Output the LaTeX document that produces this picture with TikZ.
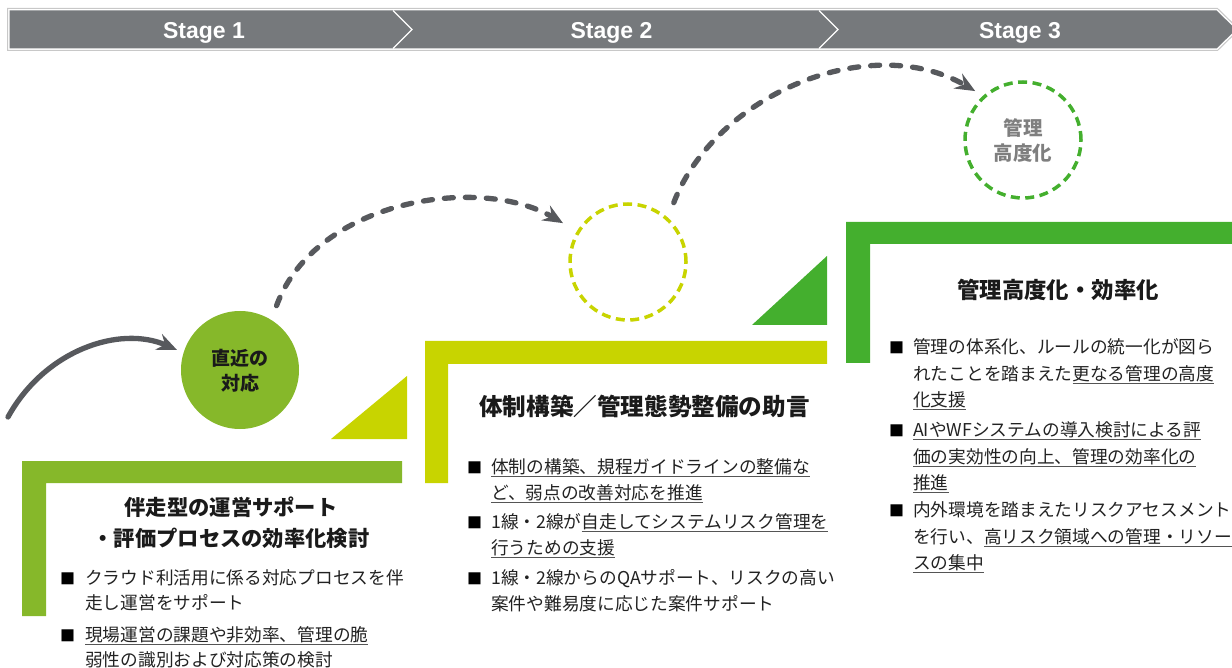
\documentclass[tikz,border=0pt]{standalone}
\usepackage{fontspec}
\setmainfont{Noto Sans CJK JP}
\newfontfamily\stagefont{Liberation Sans}
\usetikzlibrary{arrows.meta}
\definecolor{hdr}{HTML}{76797C}
\definecolor{hdrline}{HTML}{C8C8C8}
\definecolor{olive}{HTML}{86B82A}
\definecolor{lime}{HTML}{C8D400}
\definecolor{grn}{HTML}{44AF2E}
\definecolor{arr}{HTML}{57595D}
\definecolor{txt}{HTML}{222222}
\definecolor{ttlc}{HTML}{1A1A1A}
\definecolor{ulc}{HTML}{555555}
\definecolor{graytxt}{HTML}{7F7F7F}
\newsavebox\ulbox
\newcommand\ul[1]{\sbox\ulbox{#1}\rlap{\color{ulc}\rule[-3.6pt]{\wd\ulbox}{0.9pt}}\usebox\ulbox}
\newcommand\Lvt[2]{\vtop{\baselineskip=#1\lineskiplimit=-30pt\lineskip=0pt\halign{##\hfil\cr#2\crcr}}}
\newcommand\Cvt[2]{\vtop{\baselineskip=#1\lineskiplimit=-30pt\lineskip=0pt\halign{\hfil##\hfil\cr#2\crcr}}}
\tikzset{
  body/.style={anchor=base west, inner sep=0pt, text=txt, font=\fontsize{17.7}{26}\selectfont},
  bul/.style={anchor=base west, inner sep=0pt, text=black, font=\fontsize{15}{15}\selectfont},
  ttl/.style={anchor=base, inner sep=0pt, text=ttlc},
  stage/.style={anchor=base, inner sep=0pt, text=white, font=\stagefont\bfseries\fontsize{23}{23}\selectfont},
  arc/.style={draw=arr, line width=5.3pt, line cap=round, -{Stealth[length=20pt,width=17pt,inset=7pt]}},
  dasharc/.style={arc, dash pattern=on 9pt off 12pt},
  dcirc/.style={circle, line width=3.5pt, dash pattern=on 9pt off 5.5pt, inner sep=0pt, minimum size=116pt},
}
\begin{document}
\begin{tikzpicture}[x=1pt,y=-1pt]
\useasboundingbox (0,0) rectangle (1232,668);
% header bar
\draw[hdrline, line width=1pt, fill=white] (7.5,8.5) -- (1217.5,8.5) -- (1239,29.5) -- (1217.5,50.5) -- (7.5,50.5) -- cycle;
\fill[hdr] (9.5,10.5) -- (1216.5,10.5) -- (1236,29.5) -- (1216.5,48.5) -- (9.5,48.5) -- cycle;
\draw[white, line width=1.2pt] (393,10.5) -- (412,29.5) -- (393,48.5);
\draw[white, line width=1.2pt] (819,10.5) -- (838,29.5) -- (819,48.5);
\node[stage] (s1) at (204,38.2) {Stage 1};
\node[stage] (s2) at (611.5,38.2) {Stage 2};
\node[stage] (s3) at (1020,38.2) {Stage 3};
% L shapes and triangles
\fill[olive] (22,461) -- (402,461) -- (402,483) -- (46,483) -- (46,616) -- (22,616) -- cycle;
\fill[lime] (425,341) -- (827,341) -- (827,364) -- (448,364) -- (448,483) -- (425,483) -- cycle;
\fill[grn] (846,222) -- (1232,222) -- (1232,244) -- (870,244) -- (870,363) -- (846,363) -- cycle;
\fill[lime] (331,439) -- (407,439) -- (407,376) -- cycle;
\fill[grn] (752,325) -- (827,325) -- (827,256) -- cycle;
% circles
\node[circle, fill=olive, inner sep=0pt, minimum size=118pt] (c1) at (240,370) {};
\node[dcirc, draw=lime] (c2) at (628,262) {};
\node[dcirc, draw=grn] (c3) at (1023,140) {};
\node[ttl, font=\bfseries\fontsize{19}{25}\selectfont] (c1t) at (240,365.2) {\Cvt{25pt}{直近の\cr 対応}};
\node[ttl, text=graytxt, font=\bfseries\fontsize{19.5}{25}\selectfont] (c3t) at (1023,135.4) {\Cvt{25pt}{管理\cr 高度化}};
% arcs
\coordinate (s0) at (8,417);
\draw[arc, shorten >=7pt] (s0) .. controls +(37,-67) and +(-63.6,-27.8) .. (c1.163);
\draw[dasharc, shorten <=15pt, shorten >=16pt] (c1.58) .. controls +(44,-120) and +(-97,-57) .. (c2.149);
\draw[dasharc, shorten <=16pt, shorten >=9pt] (c2.48) .. controls +(47.5,-123.2) and +(-112.9,-65.4) .. (c3.132);
% titles
\node[ttl, font=\bfseries\fontsize{21.3}{31}\selectfont] (t1) at (231,515.1) {\Cvt{31pt}{伴走型の運営サポート\cr ・評価プロセスの効率化検討}};
\node[ttl, font=\bfseries\fontsize{23.6}{30}\selectfont] (t2) at (644.5,415) {体制構築／管理態勢整備の助言};
\node[ttl, font=\bfseries\fontsize{22.4}{30}\selectfont] (t3) at (1058,298.5) {管理高度化・効率化};
% block 1 bullets
\node[bul] (q1a) at (60,584.7) {■};
\node[body] (b1a) at (85,584.7) {\Lvt{25pt}{クラウド利活用に係る対応プロセスを伴\cr 走し運営をサポート}};
\node[bul] (q1b) at (60,641.7) {■};
\node[body] (b1b) at (85,641.7) {\Lvt{25pt}{\ul{現場運営の課題や非効率、管理の脆}\cr \ul{弱性の識別および対応策の検討}}};
% block 2 bullets
\node[bul] (q2a) at (467,473.7) {■};
\node[body] (b2a) at (491,473.7) {\Lvt{26pt}{\ul{体制の構築、規程ガイドラインの整備な}\cr \ul{ど、弱点の改善対応を推進}}};
\node[bul] (q2b) at (467,528.7) {■};
\node[body] (b2b) at (491,528.7) {\Lvt{26pt}{1線・2線が\ul{自走してシステムリスク管理を}\cr \ul{行うための支援}}};
\node[bul] (q2c) at (467,584.7) {■};
\node[body] (b2c) at (491,584.7) {\Lvt{26pt}{1線・2線からのQAサポート、リスクの高い\cr 案件や難易度に応じた案件サポート}};
% block 3 bullets
\node[bul] (q3a) at (889,353.7) {■};
\node[body] (b3a) at (913,353.7) {\Lvt{26.5pt}{管理の体系化、ルールの統一化が図ら\cr れたことを踏まえた\ul{更なる管理の高度}\cr \ul{化支援}}};
\node[bul] (q3b) at (889,436.7) {■};
\node[body] (b3b) at (913,436.7) {\Lvt{26.5pt}{\ul{AIやWFシステムの導入検討による評}\cr \ul{価の実効性の向上、管理の効率化の}\cr \ul{推進}}};
\node[bul] (q3c) at (889,516.7) {■};
\node[body] (b3c) at (913,516.7) {\Lvt{26.5pt}{内外環境を踏まえたリスクアセスメント\cr を行い、\ul{高リスク領域への管理・リソー}\cr \ul{スの集中}}};
\end{tikzpicture}
\end{document}
